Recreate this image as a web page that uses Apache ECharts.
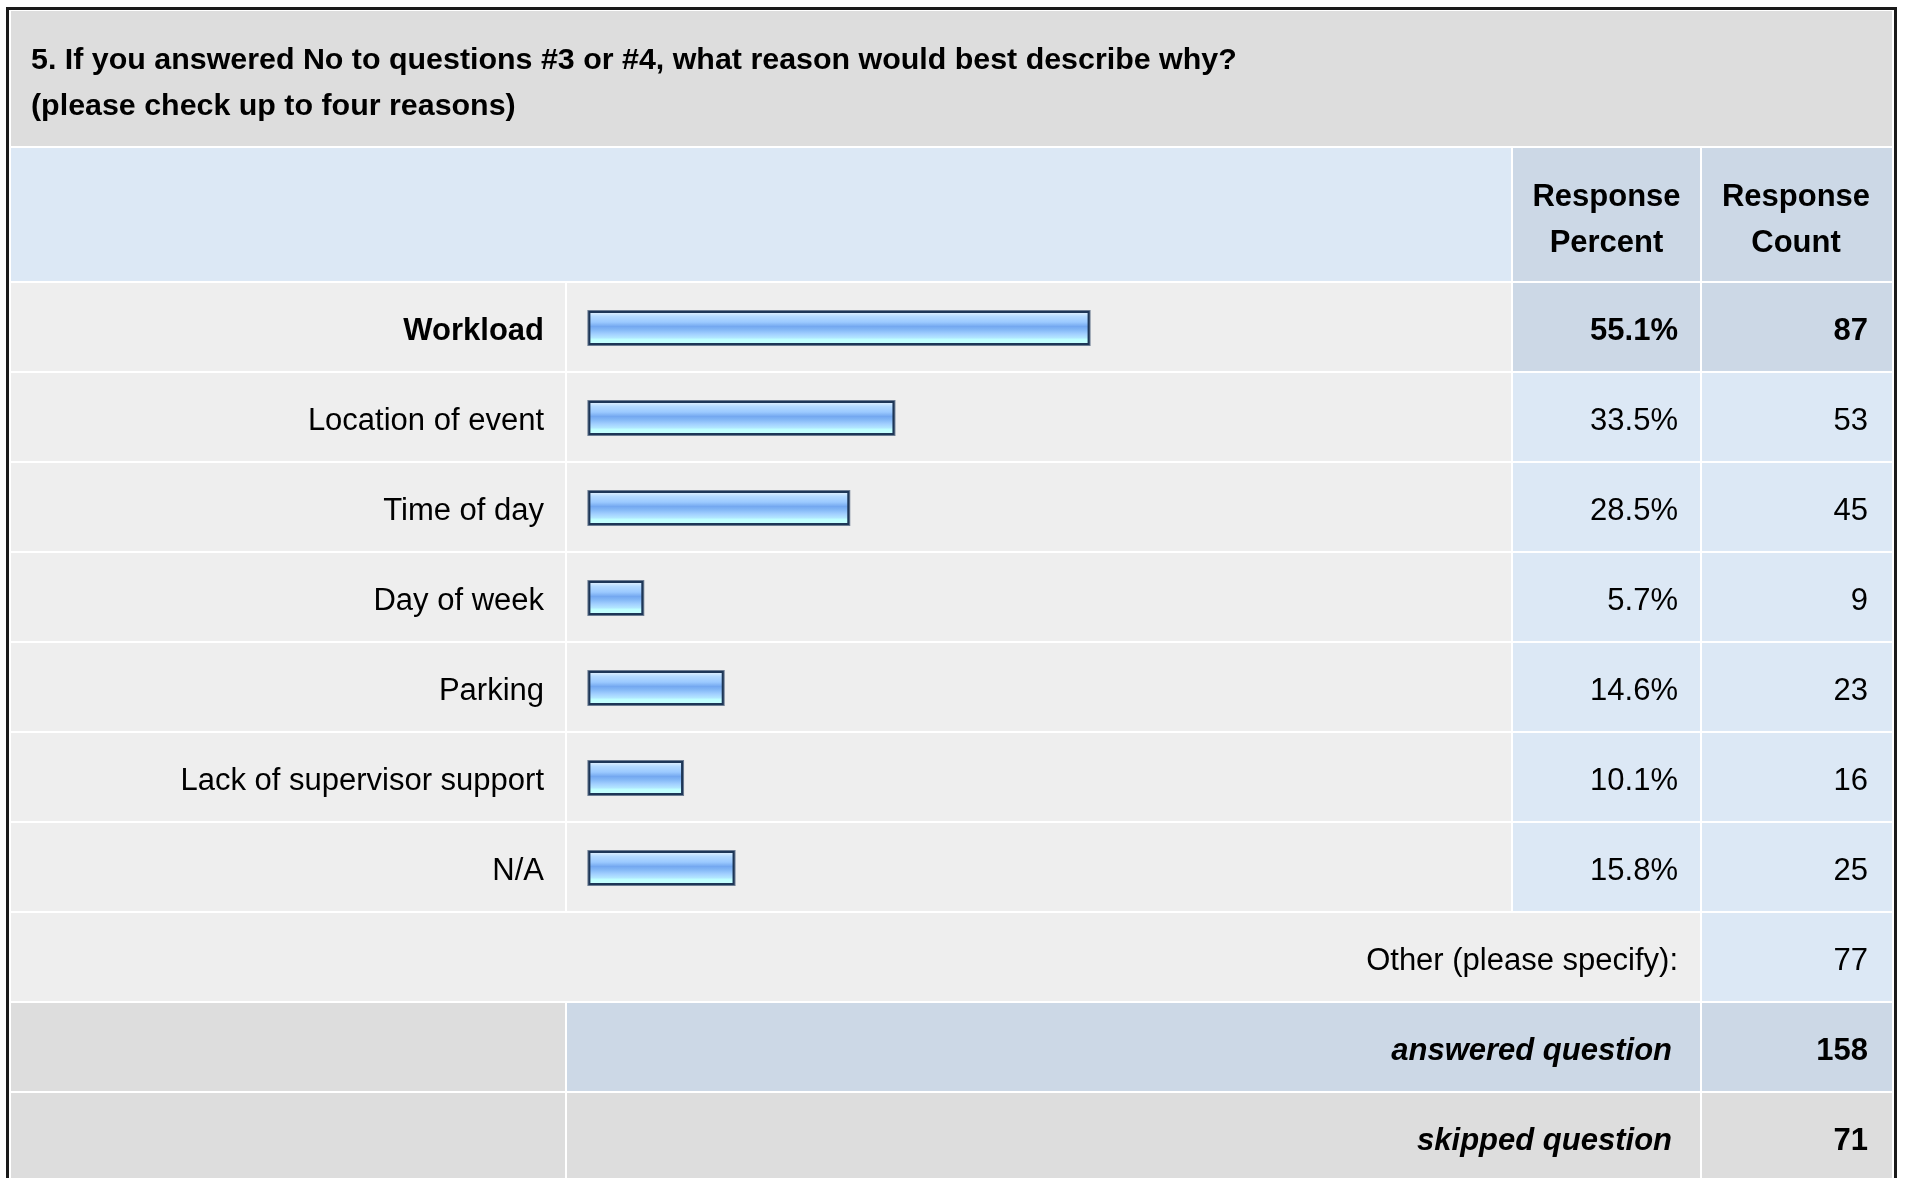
<!DOCTYPE html>
<html>
<head>
<meta charset="utf-8">
<script src="https://cdn.jsdelivr.net/npm/echarts@6/dist/echarts.min.js"></script>
<style>
  html, body { margin: 0; padding: 0; background: #ffffff; }
  #chart { width: 1907px; height: 1178px; }
</style>
</head>
<body>
<div id="chart"></div>
<script>
// Survey question 5: reasons for answering "No" to questions #3 or #4
const titleLines = [
  '5. If you answered No to questions #3 or #4, what reason would best describe why?',
  '(please check up to four reasons)'
];
const headerPercent = ['Response', 'Percent'];
const headerCount = ['Response', 'Count'];

const categories = [
  'Workload',
  'Location of event',
  'Time of day',
  'Day of week',
  'Parking',
  'Lack of supervisor support',
  'N/A'
];
const percentValues = [55.1, 33.5, 28.5, 5.7, 14.6, 10.1, 15.8];
const responseCounts = [87, 53, 45, 9, 23, 16, 25];

const otherLabel = 'Other (please specify):';
const otherCount = 77;
const summaryLabels = ['answered question', 'skipped question'];
const summaryCounts = [158, 71];

// Table layout
const FONT = "'Liberation Sans', Arial, Helvetica, sans-serif";
const FS = 31;
const C = {
  gray: '#dddddd',
  light: '#eeeeee',
  blue: '#dce8f5',
  blueDark: '#ccd8e6',
  text: '#000000'
};
const X = { left: 11, labelEnd: 565, barStart: 567, barEnd: 1511, pctStart: 1513, pctEnd: 1700, cntStart: 1702, right: 1892 };
const ROW_TOP = 283, PITCH = 90, CELL_H = 88;
const GRID = { left: 589.6, top: 282, width: 903.4 };
const TEXT_DY = 4;
const BAR_H = 36;

const barFill = new echarts.graphic.LinearGradient(0, 0, 0, 1, [
  { offset: 0, color: '#d8edff' },
  { offset: 0.12, color: '#b2d9ff' },
  { offset: 0.3, color: '#9ccaff' },
  { offset: 0.45, color: '#74a8f0' },
  { offset: 0.56, color: '#84b8f6' },
  { offset: 0.7, color: '#a2d0ff' },
  { offset: 0.82, color: '#b2e6ff' },
  { offset: 0.88, color: '#bfffff' },
  { offset: 1, color: '#c6ffff' }
]);

// Bar with its frame drawn outside the value extent, as a framed gauge
function renderBar(params, api) {
  const start = api.coord([0, api.value(1)]);
  const end = api.coord([api.value(0), api.value(1)]);
  const L = start[0] - 2.2, R = end[0] + 3.2;
  const T = start[1] - BAR_H / 2 + 1, W = R - L;
  return {
    type: 'group',
    children: [
      { type: 'rect', shape: { x: L, y: T, width: W, height: BAR_H }, style: { fill: '#6d7d93' } },
      { type: 'rect', shape: { x: L + 1, y: T + 1, width: W - 2, height: BAR_H - 2 }, style: { fill: '#1d3657' } },
      { type: 'rect', shape: { x: L + 3, y: T + 3, width: W - 6, height: BAR_H - 6 }, style: { fill: barFill } }
    ]
  };
}

const chart = echarts.init(document.getElementById('chart'), null, { renderer: 'canvas' });

chart.setOption({
  animation: false,
  backgroundColor: '#ffffff',
  grid: { left: GRID.left, top: GRID.top, width: GRID.width, height: PITCH * categories.length, containLabel: false },
  xAxis: {
    type: 'value', min: 0, max: 100, show: false
  },
  yAxis: {
    type: 'category',
    inverse: true,
    data: categories,
    z: 10,
    axisLine: { show: false },
    axisTick: { show: false },
    splitLine: { show: false },
    axisLabel: {
      margin: 45.6,
      padding: [TEXT_DY * 2, 0, 0, 0],
      fontFamily: FONT,
      fontSize: FS,
      color: C.text,
      formatter: (v, i) => i === 0 ? '{b|' + v + '}' : v,
      rich: { b: { fontFamily: FONT, fontSize: FS, fontWeight: 'bold', color: C.text } }
    }
  },
  series: [{
    type: 'custom',
    z: 10,
    renderItem: renderBar,
    encode: { x: 0, y: 1 },
    data: percentValues.map((v, i) => [v, i])
  }]
});

// Build the table cells and texts around the plotted bars
const g = [];
function rect(x0, y0, x1, y1, fill) {
  g.push({ type: 'rect', z: 1, silent: true, shape: { x: x0, y: y0, width: x1 - x0, height: y1 - y0 }, style: { fill: fill } });
}
function text(str, x, y, align, weight, style, size) {
  g.push({
    type: 'text', z: 20, silent: true, x: x, y: y,
    style: {
      text: String(str), fill: C.text, fontFamily: FONT, fontSize: size || FS,
      fontWeight: weight || 'normal', fontStyle: style || 'normal',
      textAlign: align, textVerticalAlign: 'middle'
    }
  });
}

// outer frame
g.push({ type: 'rect', z: 1, silent: true, shape: { x: 7.5, y: 8.5, width: 1888, height: 1200 }, style: { fill: 'none', stroke: '#1a1a1a', lineWidth: 3 } });

// title band
rect(X.left, 11, X.right, 146, C.gray);
text(titleLines[0], 31, 61, 'left', 'bold', null, 30.4);
text(titleLines[1], 31, 107, 'left', 'bold', null, 30.4);

// column header band
rect(X.left, 148, X.barEnd, 281, C.blue);
rect(X.pctStart, 148, X.pctEnd, 281, C.blueDark);
rect(X.cntStart, 148, X.right, 281, C.blueDark);
const pctMid = (X.pctStart + X.pctEnd) / 2, cntMid = (X.cntStart + X.right) / 2;
text(headerPercent[0], pctMid, 197, 'center', 'bold');
text(headerPercent[1], pctMid, 243, 'center', 'bold');
text(headerCount[0], cntMid - 1, 197, 'center', 'bold');
text(headerCount[1], cntMid - 1, 243, 'center', 'bold');

const PCT_RIGHT = 1678, CNT_RIGHT = 1868;
categories.forEach((cat, i) => {
  const cy = chart.convertToPixel({ yAxisIndex: 0 }, cat);
  const rowTop = ROW_TOP + PITCH * i;
  const hi = i === 0;
  rect(X.left, rowTop, X.labelEnd, rowTop + CELL_H, C.light);
  rect(X.barStart, rowTop, X.barEnd, rowTop + CELL_H, C.light);
  rect(X.pctStart, rowTop, X.pctEnd, rowTop + CELL_H, hi ? C.blueDark : C.blue);
  rect(X.cntStart, rowTop, X.right, rowTop + CELL_H, hi ? C.blueDark : C.blue);
  text(percentValues[i].toFixed(1) + '%', PCT_RIGHT, cy + TEXT_DY, 'right', hi ? 'bold' : 'normal');
  text(responseCounts[i], CNT_RIGHT, cy + TEXT_DY, 'right', hi ? 'bold' : 'normal');
});

// "Other" row
const otherTop = ROW_TOP + PITCH * categories.length;
const mid0 = 44 + TEXT_DY;
rect(X.left, otherTop, X.pctEnd, otherTop + CELL_H, C.light);
rect(X.cntStart, otherTop, X.right, otherTop + CELL_H, C.blue);
text(otherLabel, PCT_RIGHT, otherTop + mid0, 'right');
text(otherCount, CNT_RIGHT, otherTop + mid0, 'right');

// summary rows
summaryLabels.forEach((lab, j) => {
  const t = otherTop + PITCH * (j + 1);
  const mid = j === 0 ? C.blueDark : C.gray;
  rect(X.left, t, X.labelEnd, t + CELL_H, C.gray);
  rect(X.barStart, t, X.pctEnd, t + CELL_H, mid);
  rect(X.cntStart, t, X.right, t + CELL_H, mid);
  text(lab, 1672, t + mid0, 'right', 'bold', 'italic');
  text(summaryCounts[j], CNT_RIGHT, t + mid0, 'right', 'bold');
});

chart.setOption({ graphic: g });
</script>
</body>
</html>
